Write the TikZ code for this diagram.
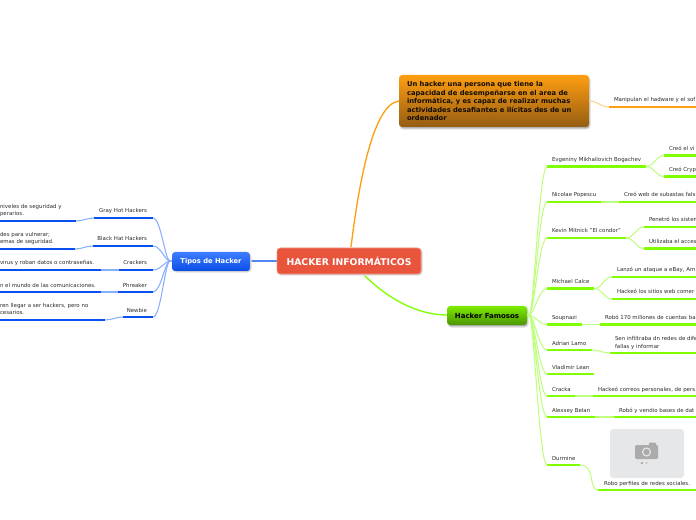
\documentclass[tikz,border=0pt]{standalone}
\usepackage{fontspec}
\setmainfont{DejaVu Sans}
\usetikzlibrary{calc}
\definecolor{grn}{HTML}{80FF00}
\definecolor{grnl}{HTML}{BEFF80}
\definecolor{blu}{HTML}{0A50F0}
\definecolor{blul}{HTML}{88AEFF}
\definecolor{org}{HTML}{FF9E12}
\definecolor{orgl}{HTML}{FFD090}
\definecolor{txtc}{HTML}{2A2A2A}
\tikzset{
  x=0.75pt,y=-0.75pt,
  lbl/.style={inner sep=0pt,outer sep=0pt,text=txtc,font=\fontsize{4.08}{5.3}\selectfont,anchor=base west,align=left},
  lblr/.style={lbl,anchor=base east,align=right},
  hd/.style={inner sep=0pt,outer sep=0pt,font=\bfseries\fontsize{5.08}{6.35}\selectfont},
  ug/.style={draw=grn,line width=1.9pt},
  ub/.style={draw=blu,line width=1.9pt},
  cg/.style={draw=grnl,line width=0.8pt},
  cb/.style={draw=blul,line width=0.8pt},
  bx/.style={rounded corners=2.4pt},
  shd/.style={bx,fill=black!30,draw=black!12,line width=0.8pt},
}
\begin{document}
\begin{tikzpicture}
\useasboundingbox (0,0) rectangle (696,520);
% hubs
\coordinate (gs) at (529,315);
\coordinate (bs) at (170,261);
% ---- main connectors
\coordinate (rootT) at (351,247);
\coordinate (rootB) at (364,275);
\coordinate (orgL) at (399,101);
\coordinate (grnL) at (447,315);
\draw[org,line width=1pt] (rootT) .. controls (358,190) and (372,104) .. (orgL);
\draw[grn,line width=1pt] (rootB) .. controls (385,296) and (415,315) .. (grnL);
\coordinate (rootLft) at (277,261);
\coordinate (tipR) at (250,261);
\draw[blu!70!white,line width=0.8pt] (rootLft) -- (tipR);
% ---- boxes
\fill[shd] (400,77) rectangle (590,129);
\shade[bx,top color=org,bottom color=org!55!black!85!brown] (399,75) rectangle (589,127);
\node[hd,text=black!90!brown,anchor=north west,align=left] (ob) at (407,81.5) {Un hacker una persona que tiene la\\capacidad de desempeñarse en el area de\\informática, y es capaz de realizar muchas\\actividades desafiantes e ilícitas des de un\\ordenador};
\fill[shd] (278,249) rectangle (422,275);
\fill[bx,fill={rgb,255:red,233;green,84;blue,61},draw={rgb,255:red,245;green,150;blue,130},line width=.4pt] (277,248) rectangle (421,274);
\node[inner sep=0pt,text=white,font=\bfseries\fontsize{6.95}{8}\selectfont] (root) at (349,261) {HACKER INFORMÁTICOS};
\fill[shd] (173,254) rectangle (251,272);
\shade[bx,top color={rgb,255:red,62;green,125;blue,255},bottom color={rgb,255:red,10;green,78;blue,230}] (172,252) rectangle (250,271);
\node[hd,text=white] (tip) at (211,261.5) {Tipos de Hacker};
\fill[shd] (448,307) rectangle (528,327);
\shade[bx,top color={rgb,255:red,125;green,235;blue,0},bottom color={rgb,255:red,75;green,150;blue,0}] (447,306) rectangle (527,325);
\node[hd,text=black,font=\bfseries\fontsize{5.25}{6.35}\selectfont] (fam) at (487,315.5) {Hacker Famosos};
% ---- orange child
\coordinate (o1) at (609,107);
\coordinate (o2) at (696,107);
\coordinate (obR) at (589,101);
\draw[orgl,line width=.8pt] (obR) to[out=0,in=180] (o1);
\draw[org,line width=1.9pt] (o1) -- (o2);
\node[lbl] (m1) at (614,102) {Manipulan el hadware y el sof};
% ---- right column: hub connectors
\foreach \n/\yy in {e/166.5,n/202,k/238,c/288.5,s/324.5,a/350,v/374,r/396,b/417,d/465}{
  \coordinate (\n L) at (547,\yy);
  \draw[cg] (gs) .. controls ($(gs)+(5,0)$) and ($(\n L)+(-8,0)$) .. (\n L);
}
% hub to box
\coordinate (famR) at (527,315);
\draw[cg] (famR) -- (gs);
% right column: items
\foreach \n/\xe/\yy/\tx in {
  e/646/166.5/{Evgeniny Mikhailovich Bogachev},
  n/601/202/{Nicolae Popescu},
  k/626/238/{Kevin Mitnick "El condor"},
  c/594/288.5/{Michael Calce},
  s/582/324.5/{Soupnazi},
  a/592/350/{Adrian Lamo},
  v/594/374/{Vladimir Lean},
  r/575/396/{Cracka},
  b/595/417/{Alexsey Belan},
  d/580/465/{Durmine}}{
  \coordinate (\n R) at (\xe,\yy);
  \draw[ug] (\n L) -- (\n R);
  \node[lbl] (\n T) at ($(\n L)+(5,-5)$) {\tx};
}
% right column: children
\foreach \p/\n/\xs/\yy/\tx in {
  e/e1/664/155.5/{Creó el vi},
  e/e2/664/176.5/{Creó Cryp},
  n/n1/619/202/{Creó web de subastas fals},
  k/k1/644/227/{Penetró los sistem},
  k/k2/644/248.5/{Utilizaba el acces},
  c/c1/612/277/{Lanzó un ataque a eBay, Am},
  c/c2/612/299/{Hackeó los sitios web comer},
  s/s1/600/324.5/{Robó 170 millones de cuentas ba},
  r/r1/593/396/{Hackeó correos personales, de pers},
  b/b1/614/417/{Robó y vendio bases de dat}}{
  \coordinate (\n L) at (\xs,\yy);
  \coordinate (\n R) at (696,\yy);
  \draw[cg] (\p R) to[out=0,in=180] (\n L);
  \draw[ug] (\n L) -- (\n R);
  \node[lbl] (\n T) at ($(\n L)+(5,-5)$) {\tx};
}
% Adrian child (two lines)
\coordinate (a1L) at (610,353);
\coordinate (a1R) at (696,353);
\draw[cg] (aR) to[out=0,in=180] (a1L);
\draw[ug] (a1L) -- (a1R);
\node[lbl] (a1T) at (615,348) {Sen infiltraba dn redes de dife\\fallas y informar};
% Durmine child
\coordinate (d1L) at (598,490);
\coordinate (d1R) at (696,490);
\draw[cg] (dR) .. controls (596,465) and (588,490) .. (d1L);
\draw[ug] (d1L) -- (d1R);
\node[lbl] (d1T) at (604,485) {Robo perfiles de redes sociales.};
% placeholder picture
\fill[rounded corners=2.5pt,fill={rgb,255:red,230;green,231;blue,233}] (610,429) rectangle (684,478);
\fill[rounded corners=1pt,fill=black!33] (635,445) rectangle (658,459);
\fill[rounded corners=.6pt,fill=black!33] (649,442.5) rectangle (656,446);
\fill[white!90!black] (646.5,452) circle (4.6);
\fill[black!33] (646.5,452) circle (3.2);
\fill[black!40] (642,463) circle (1.2);
\fill[black!25] (646.5,463) circle (1.2);
% ---- left column
\foreach \n/\xs/\yy/\tx in {
  g/94/218/{Gray Hot Hackers},
  h/93/246/{Black Hat Hackers},
  i/119/270/{Crackers},
  p/118/292/{Phreaker},
  w/123/317/{Newbie}}{
  \coordinate (\n R) at (153,\yy);
  \coordinate (\n L) at (\xs,\yy);
  \draw[cb] (bs) .. controls ($(bs)+(-5,0)$) and ($(\n R)+(8,0)$) .. (\n R);
  \draw[ub] (\n L) -- (\n R);
  \node[lblr] (\n T) at ($(\n R)+(-6,-5)$) {\tx};
}
\coordinate (tipL) at (172,261);
\draw[cb] (tipL) -- (bs);
\foreach \p/\n/\xe/\yy in {g/g1/76/221,h/h1/75/249,i/i1/101/270,p/p1/101/292,w/w1/105/320}{
  \coordinate (\n R) at (\xe,\yy);
  \coordinate (\n L) at (0,\yy);
  \draw[cb] (\p L) to[out=180,in=0] (\n R);
  \draw[ub] (\n L) -- (\n R);
}
\node[lbl] (g1T) at (0,216) {niveles de seguridad y\\perarios.};
\node[lbl] (h1T) at (0,244) {des para vulnerar;\\emas de seguridad.};
\node[lbl] (i1T) at (0,265) {virus y roban datos o contraseñas.};
\node[lbl] (p1T) at (0,287) {n el mundo de las comunicaciones.};
\node[lbl] (w1T) at (0,315) {ren llegar a ser hackers, pero no\\cesarios.};
\end{tikzpicture}
\end{document}
